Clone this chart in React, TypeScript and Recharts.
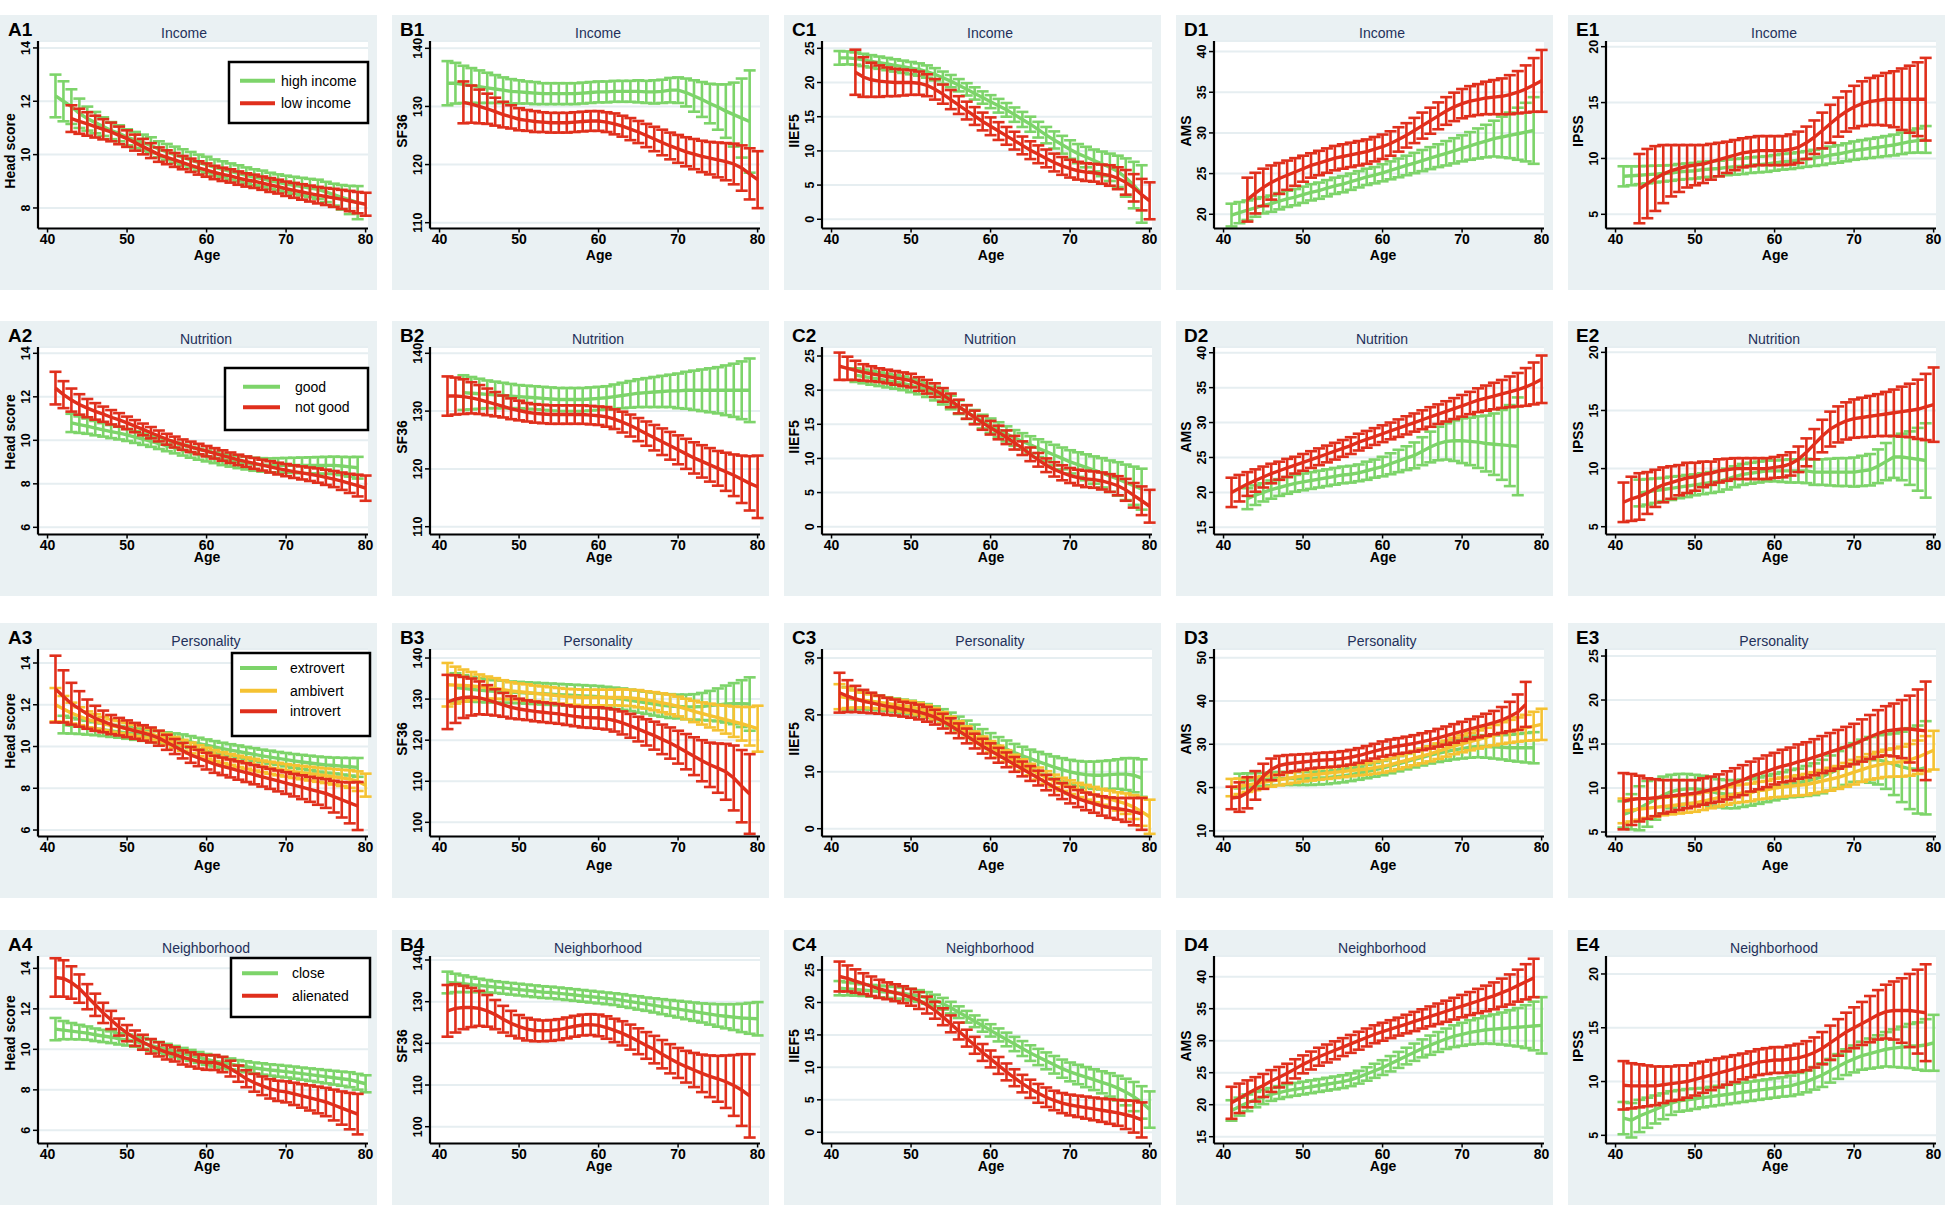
import { LineChart, Line, XAxis, YAxis, CartesianGrid, ErrorBar } from "recharts";

const _ = null;

const AGES = [41, 42, 43, 44, 45, 46, 47, 48, 49, 50, 51, 52, 53, 54, 55, 56, 57, 58, 59, 60, 61, 62, 63, 64, 65, 66, 67, 68, 69, 70, 71, 72, 73, 74, 75, 76, 77, 78, 79, 80];
const X_TICKS = [40, 50, 60, 70, 80];

// ---- Row 1: income (high / low) ----
const a1HighMean = [12.2, 12.0, 11.8, 11.55, 11.35, 11.2, 11.05, 10.9, 10.8, 10.65,  10.55, 10.45, 10.35, 10.2, 10.1, 10.0, 9.9, 9.8, 9.7, 9.62,  9.52, 9.45, 9.37, 9.3, 9.22, 9.15, 9.1, 9.02, 8.96, 8.9,  8.85, 8.8, 8.75, 8.7, 8.6, 8.5, 8.4, 8.3, 8.2, _];
const a1HighCi = [0.8, 0.75, 0.65, 0.55, 0.45, 0.4, 0.35, 0.32, 0.3, 0.3,  0.3, 0.3, 0.3, 0.3, 0.3, 0.3, 0.3, 0.3, 0.3, 0.3,  0.3, 0.3, 0.3, 0.3, 0.3, 0.3, 0.3, 0.3, 0.3, 0.31,  0.32, 0.33, 0.34, 0.36, 0.38, 0.41, 0.46, 0.53, 0.62, _];
const a1LowMean = [_, _, 11.35, 11.25, 11.15, 11.05, 10.95, 10.85, 10.72, 10.6,  10.45, 10.3, 10.15, 10.0, 9.9, 9.8, 9.7, 9.6, 9.5, 9.42,  9.33, 9.26, 9.2, 9.12, 9.05, 9.0, 8.93, 8.86, 8.8, 8.72,  8.66, 8.6, 8.54, 8.48, 8.43, 8.38, 8.32, 8.26, 8.2, 8.14];
const a1LowCi = [_, _, 0.5, 0.47, 0.44, 0.41, 0.38, 0.35, 0.33, 0.31,  0.3, 0.29, 0.28, 0.27, 0.26, 0.26, 0.25, 0.25, 0.25, 0.25,  0.25, 0.25, 0.25, 0.25, 0.25, 0.25, 0.25, 0.26, 0.26, 0.27,  0.28, 0.29, 0.3, 0.31, 0.32, 0.34, 0.36, 0.38, 0.4, 0.43];

const b1HighMean = [134.0, 134.0, 133.8, 133.6, 133.4, 133.2, 133.0, 132.8, 132.6, 132.5,  132.4, 132.3, 132.2, 132.2, 132.2, 132.2, 132.2, 132.3, 132.4, 132.5,  132.5, 132.6, 132.6, 132.6, 132.6, 132.5, 132.5, 132.6, 132.8, 132.8,  132.4, 131.8, 131.2, 130.5, 129.9, 129.2, 128.6, 128.0, 127.4, _];
const b1HighCi = [3.8, 3.5, 3.2, 3.0, 2.8, 2.6, 2.4, 2.2, 2.1, 2.0,  1.9, 1.9, 1.8, 1.8, 1.8, 1.8, 1.8, 1.8, 1.8, 1.8,  1.8, 1.8, 1.8, 1.8, 1.9, 1.9, 2.0, 2.0, 2.1, 2.2,  2.4, 2.7, 3.0, 3.4, 3.9, 4.6, 5.5, 6.8, 8.8, _];
const b1LowMean = [_, _, 130.7, 130.4, 130.0, 129.6, 129.1, 128.6, 128.2, 127.8,  127.6, 127.4, 127.3, 127.2, 127.2, 127.2, 127.3, 127.4, 127.5, 127.5,  127.3, 127.0, 126.6, 126.1, 125.6, 125.0, 124.4, 123.8, 123.2, 122.7,  122.2, 121.8, 121.4, 121.1, 120.8, 120.5, 120.1, 119.4, 118.4, 117.4];
const b1LowCi = [_, _, 3.6, 3.2, 2.9, 2.6, 2.4, 2.2, 2.0, 1.9,  1.8, 1.8, 1.7, 1.7, 1.7, 1.7, 1.7, 1.7, 1.7, 1.7,  1.7, 1.8, 1.8, 1.9, 1.9, 2.0, 2.1, 2.2, 2.3, 2.4,  2.5, 2.6, 2.7, 2.8, 3.0, 3.2, 3.5, 3.9, 4.4, 4.9];

const c1HighMean = [23.6, 23.6, 23.5, 23.3, 23.1, 22.9, 22.7, 22.5, 22.3, 22.1,  21.9, 21.6, 21.2, 20.7, 20.2, 19.6, 19.0, 18.4, 17.8, 17.2,  16.6, 16.0, 15.3, 14.6, 13.9, 13.1, 12.3, 11.6, 10.9, 10.2,  9.6, 9.1, 8.6, 8.1, 7.6, 7.0, 6.1, 5.0, 3.7, _];
const c1HighCi = [1.0, 0.95, 0.9, 0.9, 0.9, 0.9, 0.9, 0.9, 0.9, 0.9,  0.9, 0.9, 0.9, 0.9, 0.9, 0.9, 0.9, 0.9, 0.9, 0.95,  1.0, 1.0, 1.05, 1.1, 1.1, 1.15, 1.2, 1.25, 1.3, 1.35,  1.4, 1.5, 1.6, 1.8, 2.0, 2.3, 2.8, 3.4, 4.2, _];
const c1LowMean = [_, _, 21.5, 20.8, 20.4, 20.2, 20.1, 20.0, 20.0, 20.0,  19.9, 19.6, 19.0, 18.3, 17.5, 16.7, 15.9, 15.1, 14.3, 13.6,  12.9, 12.2, 11.5, 10.8, 10.1, 9.5, 8.9, 8.3, 7.8, 7.4,  7.1, 6.9, 6.8, 6.6, 6.4, 6.0, 5.4, 4.6, 3.6, 2.7];
const c1LowCi = [_, _, 3.3, 2.9, 2.5, 2.3, 2.1, 2.0, 1.9, 1.8,  1.7, 1.6, 1.5, 1.4, 1.4, 1.3, 1.3, 1.3, 1.3, 1.3,  1.3, 1.3, 1.3, 1.3, 1.3, 1.3, 1.3, 1.3, 1.3, 1.3,  1.3, 1.3, 1.3, 1.4, 1.5, 1.6, 1.8, 2.0, 2.3, 2.7];

const d1HighMean = [19.9, 20.2, 20.5, 20.8, 21.1, 21.3, 21.6, 21.9, 22.1, 22.4,  22.7, 22.9, 23.2, 23.5, 23.7, 24.0, 24.3, 24.6, 24.8, 25.1,  25.4, 25.7, 26.0, 26.3, 26.6, 26.9, 27.2, 27.5, 27.8, 28.1,  28.4, 28.7, 29.0, 29.3, 29.5, 29.7, 29.9, 30.1, 30.3, _];
const d1HighCi = [1.4, 1.3, 1.2, 1.1, 1.0, 1.0, 1.0, 1.0, 1.0, 1.0,  1.0, 1.0, 1.0, 1.0, 1.0, 1.0, 1.0, 1.0, 1.0, 1.05,  1.1, 1.15, 1.2, 1.25, 1.3, 1.35, 1.4, 1.5, 1.55, 1.6,  1.7, 1.85, 2.0, 2.2, 2.5, 2.8, 3.2, 3.6, 4.1, _];
const d1LowMean = [_, _, 21.8, 22.6, 23.3, 23.9, 24.4, 24.8, 25.2, 25.6,  26.0, 26.3, 26.6, 26.9, 27.1, 27.3, 27.5, 27.7, 28.0, 28.3,  28.7, 29.2, 29.7, 30.3, 30.9, 31.5, 32.1, 32.7, 33.2, 33.6,  33.9, 34.1, 34.3, 34.4, 34.5, 34.7, 35.0, 35.4, 35.9, 36.4];
const d1LowCi = [_, _, 2.7, 2.5, 2.3, 2.1, 1.9, 1.8, 1.7, 1.6,  1.5, 1.5, 1.5, 1.5, 1.5, 1.5, 1.5, 1.5, 1.5, 1.5,  1.5, 1.5, 1.5, 1.55, 1.6, 1.6, 1.65, 1.7, 1.75, 1.8,  1.85, 1.9, 2.0, 2.1, 2.2, 2.4, 2.6, 2.9, 3.3, 3.8];

const e1HighMean = [8.4, 8.45, 8.5, 8.55, 8.6, 8.65, 8.7, 8.8, 8.85, 8.9,  9.0, 9.05, 9.1, 9.2, 9.25, 9.3, 9.4, 9.45, 9.5, 9.6,  9.7, 9.75, 9.85, 9.95, 10.05, 10.15, 10.3, 10.4, 10.55, 10.7,  10.8, 10.9, 11.0, 11.1, 11.2, 11.35, 11.5, 11.6, 11.7, _];
const e1HighCi = [0.9, 0.85, 0.8, 0.78, 0.75, 0.72, 0.7, 0.7, 0.7, 0.7,  0.7, 0.7, 0.7, 0.7, 0.7, 0.7, 0.7, 0.7, 0.7, 0.7,  0.7, 0.7, 0.7, 0.7, 0.72, 0.74, 0.76, 0.78, 0.8, 0.82,  0.84, 0.86, 0.88, 0.9, 0.93, 0.96, 1.0, 1.08, 1.2, _];
const e1LowMean = [_, _, 7.3, 7.75, 8.2, 8.6, 8.9, 9.1, 9.3, 9.4,  9.5, 9.7, 9.9, 10.1, 10.3, 10.5, 10.6, 10.7, 10.7, 10.7,  10.7, 10.8, 11.0, 11.4, 11.9, 12.5, 13.1, 13.7, 14.2, 14.6,  14.9, 15.1, 15.2, 15.3, 15.3, 15.3, 15.3, 15.3, 15.3, _];
const e1LowCi = [_, _, 3.1, 3.1, 2.9, 2.6, 2.3, 2.1, 1.9, 1.8,  1.7, 1.6, 1.5, 1.4, 1.35, 1.3, 1.3, 1.3, 1.3, 1.3,  1.3, 1.35, 1.4, 1.45, 1.5, 1.6, 1.7, 1.75, 1.8, 1.9,  2.0, 2.1, 2.2, 2.35, 2.5, 2.75, 3.0, 3.3, 3.7, _];

// ---- Row 2: nutrition (good / not good) ----
const a2GoodMean = [_, _, 10.8, 10.72, 10.65, 10.56, 10.48, 10.4, 10.33, 10.25,  10.15, 10.05, 9.95, 9.85, 9.75, 9.65, 9.55, 9.45, 9.36, 9.28,  9.2, 9.12, 9.06, 9.0, 8.95, 8.9, 8.87, 8.85, 8.85, 8.85,  8.85, 8.85, 8.85, 8.85, 8.85, 8.85, 8.82, 8.78, 8.74, _];
const a2GoodCi = [_, _, 0.42, 0.38, 0.35, 0.33, 0.31, 0.3, 0.29, 0.28,  0.27, 0.26, 0.25, 0.25, 0.25, 0.25, 0.25, 0.25, 0.25, 0.25,  0.25, 0.26, 0.27, 0.28, 0.29, 0.3, 0.31, 0.32, 0.33, 0.34,  0.35, 0.36, 0.37, 0.38, 0.39, 0.4, 0.42, 0.45, 0.5, _];
const a2NotMean = [12.4, 12.1, 11.85, 11.65, 11.48, 11.33, 11.2, 11.06, 10.94, 10.8,  10.65, 10.5, 10.35, 10.2, 10.05, 9.92, 9.8, 9.7, 9.6, 9.5,  9.4, 9.3, 9.2, 9.1, 9.02, 8.94, 8.86, 8.78, 8.7, 8.63,  8.56, 8.5, 8.44, 8.38, 8.3, 8.22, 8.12, 8.02, 7.92, 7.8];
const a2NotCi = [0.75, 0.62, 0.53, 0.47, 0.42, 0.38, 0.35, 0.33, 0.31, 0.29,  0.28, 0.27, 0.26, 0.25, 0.25, 0.25, 0.24, 0.24, 0.24, 0.24,  0.24, 0.24, 0.24, 0.24, 0.24, 0.25, 0.25, 0.26, 0.27, 0.28,  0.29, 0.3, 0.31, 0.33, 0.35, 0.37, 0.4, 0.44, 0.5, 0.58];

const b2GoodMean = [_, _, 133.2, 133.1, 133.0, 132.9, 132.8, 132.7, 132.6, 132.5,  132.4, 132.3, 132.2, 132.1, 132.0, 132.0, 132.0, 132.0, 132.1, 132.2,  132.3, 132.5, 132.7, 132.9, 133.1, 133.2, 133.3, 133.4, 133.5, 133.5,  133.6, 133.6, 133.6, 133.6, 133.6, 133.6, 133.6, 133.6, 133.6, _];
const b2GoodCi = [_, _, 3.0, 2.8, 2.6, 2.4, 2.3, 2.2, 2.1, 2.0,  2.0, 2.0, 2.0, 2.0, 2.0, 2.0, 2.0, 2.0, 2.0, 2.0,  2.0, 2.1, 2.2, 2.3, 2.4, 2.5, 2.6, 2.7, 2.8, 3.0,  3.2, 3.4, 3.6, 3.8, 4.0, 4.3, 4.6, 5.0, 5.5, _];
const b2NotMean = [132.6, 132.6, 132.5, 132.3, 132.0, 131.6, 131.2, 130.8, 130.4, 130.1,  129.8, 129.6, 129.5, 129.4, 129.4, 129.4, 129.4, 129.4, 129.3, 129.2,  129.0, 128.6, 128.1, 127.5, 126.8, 126.1, 125.4, 124.7, 124.0, 123.3,  122.6, 121.9, 121.3, 120.7, 120.1, 119.5, 118.9, 118.2, 117.5, 116.9];
const b2NotCi = [3.4, 3.2, 3.0, 2.7, 2.5, 2.3, 2.1, 1.9, 1.8, 1.7,  1.6, 1.6, 1.6, 1.6, 1.6, 1.6, 1.6, 1.6, 1.6, 1.6,  1.7, 1.7, 1.8, 1.9, 2.0, 2.1, 2.2, 2.3, 2.4, 2.5,  2.6, 2.7, 2.8, 2.9, 3.0, 3.3, 3.6, 4.1, 4.7, 5.4];

const c2GoodMean = [_, _, 22.2, 22.0, 21.8, 21.6, 21.4, 21.2, 21.0, 20.7,  20.4, 20.0, 19.5, 18.9, 18.2, 17.5, 16.8, 16.1, 15.4, 14.8,  14.2, 13.6, 13.0, 12.5, 12.0, 11.5, 11.0, 10.5, 10.0, 9.5,  9.1, 8.7, 8.3, 7.9, 7.4, 7.0, 6.5, 6.0, 5.5, _];
const c2GoodCi = [_, _, 1.0, 1.0, 1.0, 1.0, 1.0, 1.0, 1.0, 1.0,  1.0, 1.0, 1.0, 1.0, 1.0, 1.0, 1.0, 1.0, 1.0, 1.05,  1.1, 1.1, 1.15, 1.2, 1.25, 1.3, 1.4, 1.5, 1.6, 1.7,  1.8, 1.9, 2.0, 2.15, 2.3, 2.45, 2.6, 2.8, 3.0, _];
const c2NotMean = [23.5, 23.2, 22.9, 22.6, 22.4, 22.2, 22.0, 21.8, 21.6, 21.4,  20.9, 20.5, 20.0, 19.3, 18.5, 17.6, 16.8, 16.0, 15.2, 14.5,  13.8, 13.1, 12.3, 11.5, 10.6, 9.8, 9.0, 8.4, 7.9, 7.5,  7.2, 7.0, 6.9, 6.7, 6.4, 6.0, 5.4, 4.6, 3.8, 3.0];
const c2NotCi = [2.0, 1.7, 1.4, 1.2, 1.1, 1.0, 1.0, 1.0, 1.0, 1.0,  1.0, 1.0, 1.0, 1.0, 1.0, 1.0, 1.0, 1.0, 1.0, 1.0,  1.0, 1.0, 1.0, 1.0, 1.0, 1.0, 1.0, 1.05, 1.1, 1.1,  1.15, 1.2, 1.2, 1.25, 1.3, 1.4, 1.6, 1.8, 2.1, 2.4];

const d2GoodMean = [_, _, 19.1, 19.6, 20.0, 20.4, 20.7, 21.0, 21.3, 21.5,  21.7, 21.9, 22.1, 22.3, 22.5, 22.6, 22.8, 23.1, 23.4, 23.7,  24.1, 24.5, 24.9, 25.3, 25.9, 26.5, 27.0, 27.3, 27.4, 27.4,  27.3, 27.2, 27.0, 26.9, 26.8, 26.7, 26.6, _, _, _];
const d2GoodCi = [_, _, 1.5, 1.4, 1.3, 1.3, 1.2, 1.2, 1.2, 1.2,  1.2, 1.2, 1.2, 1.2, 1.2, 1.2, 1.2, 1.3, 1.3, 1.4,  1.5, 1.6, 1.7, 1.85, 2.0, 2.2, 2.4, 2.6, 2.9, 3.2,  3.4, 3.7, 4.0, 4.4, 5.0, 5.8, 7.0, _, _, _];
const d2NotMean = [20.0, 20.6, 21.2, 21.7, 22.2, 22.7, 23.1, 23.5, 23.9, 24.3,  24.7, 25.1, 25.5, 25.9, 26.3, 26.7, 27.2, 27.6, 28.0, 28.4,  28.8, 29.2, 29.6, 30.0, 30.4, 30.8, 31.2, 31.6, 32.0, 32.4,  32.8, 33.2, 33.5, 33.8, 34.1, 34.4, 34.7, 35.1, 35.6, 36.2];
const d2NotCi = [2.1, 1.9, 1.7, 1.6, 1.5, 1.4, 1.3, 1.3, 1.2, 1.2,  1.2, 1.2, 1.2, 1.2, 1.2, 1.2, 1.2, 1.2, 1.2, 1.2,  1.2, 1.25, 1.3, 1.3, 1.35, 1.4, 1.4, 1.45, 1.5, 1.55,  1.6, 1.7, 1.8, 1.9, 2.0, 2.2, 2.4, 2.7, 3.0, 3.4];

const e2GoodMean = [_, _, 7.9, 8.0, 8.1, 8.2, 8.3, 8.4, 8.5, 8.6,  8.7, 8.8, 8.9, 9.1, 9.3, 9.5, 9.6, 9.7, 9.8, 9.8,  9.8, 9.8, 9.8, 9.8, 9.7, 9.7, 9.7, 9.7, 9.7, 9.7,  9.8, 9.9, 10.2, 10.6, 11.0, 11.0, 10.9, 10.8, 10.7, _];
const e2GoodCi = [_, _, 1.15, 1.1, 1.05, 1.0, 1.0, 0.95, 0.95, 0.9,  0.9, 0.9, 0.9, 0.9, 0.9, 0.9, 0.9, 0.9, 0.9, 0.9,  0.95, 1.0, 1.0, 1.05, 1.1, 1.1, 1.15, 1.2, 1.2, 1.25,  1.3, 1.35, 1.45, 1.6, 1.8, 2.0, 2.3, 2.7, 3.2, _];
const e2NotMean = [7.1, 7.4, 7.6, 7.9, 8.3, 8.6, 8.8, 9.0, 9.2, 9.3,  9.5, 9.6, 9.8, 9.9, 10.0, 10.0, 10.0, 10.0, 10.0, 10.1,  10.2, 10.4, 10.8, 11.4, 12.1, 12.8, 13.4, 13.8, 14.1, 14.3,  14.4, 14.5, 14.6, 14.7, 14.8, 14.9, 15.0, 15.1, 15.3, 15.5];
const e2NotCi = [1.7, 1.9, 2.0, 1.8, 1.6, 1.5, 1.4, 1.3, 1.3, 1.2,  1.1, 1.0, 1.0, 0.95, 0.9, 0.9, 0.9, 0.9, 0.9, 0.9,  0.95, 1.0, 1.1, 1.2, 1.3, 1.4, 1.5, 1.55, 1.6, 1.65,  1.7, 1.75, 1.8, 1.9, 2.0, 2.15, 2.3, 2.55, 2.85, 3.2];

// ---- Row 3: personality (extrovert / ambivert / introvert) ----
const a3ExtroMean = [_, 11.05, 11.0, 10.95, 10.9, 10.85, 10.8, 10.75, 10.7, 10.65,  10.6, 10.55, 10.5, 10.45, 10.4, 10.35, 10.3, 10.22, 10.14, 10.06,  9.98, 9.9, 9.83, 9.76, 9.69, 9.62, 9.55, 9.49, 9.43, 9.37,  9.31, 9.26, 9.21, 9.16, 9.12, 9.09, 9.06, 9.03, 9.0, _];
const a3ExtroCi = [_, 0.42, 0.38, 0.35, 0.33, 0.31, 0.3, 0.29, 0.28, 0.28,  0.28, 0.28, 0.28, 0.28, 0.28, 0.28, 0.28, 0.28, 0.28, 0.28,  0.28, 0.28, 0.28, 0.29, 0.29, 0.3, 0.3, 0.31, 0.31, 0.32,  0.33, 0.34, 0.35, 0.36, 0.37, 0.38, 0.4, 0.42, 0.45, _];
const a3AmbiMean = [12.0, 11.8, 11.6, 11.45, 11.3, 11.2, 11.1, 11.0, 10.93, 10.85,  10.77, 10.7, 10.6, 10.48, 10.35, 10.2, 10.06, 9.93, 9.8, 9.68,  9.57, 9.47, 9.38, 9.29, 9.21, 9.13, 9.05, 8.98, 8.92, 8.86,  8.8, 8.75, 8.7, 8.65, 8.6, 8.55, 8.5, 8.44, 8.34, 8.15];
const a3AmbiCi = [0.8, 0.62, 0.5, 0.43, 0.38, 0.35, 0.32, 0.3, 0.29, 0.28,  0.27, 0.27, 0.26, 0.26, 0.26, 0.26, 0.26, 0.26, 0.26, 0.26,  0.26, 0.26, 0.26, 0.27, 0.27, 0.28, 0.28, 0.29, 0.3, 0.3,  0.31, 0.32, 0.33, 0.34, 0.35, 0.37, 0.39, 0.42, 0.47, 0.55];
const a3IntroMean = [12.75, 12.4, 12.05, 11.8, 11.55, 11.35, 11.2, 11.05, 10.95, 10.85,  10.75, 10.65, 10.55, 10.4, 10.2, 10.0, 9.8, 9.6, 9.45, 9.3,  9.15, 9.05, 8.95, 8.85, 8.75, 8.65, 8.55, 8.45, 8.35, 8.25,  8.15, 8.05, 7.95, 7.85, 7.75, 7.6, 7.45, 7.3, 7.15, _];
const a3IntroCi = [1.6, 1.25, 1.0, 0.85, 0.7, 0.6, 0.52, 0.46, 0.42, 0.4,  0.38, 0.37, 0.36, 0.36, 0.36, 0.36, 0.37, 0.38, 0.39, 0.4,  0.41, 0.42, 0.43, 0.44, 0.45, 0.46, 0.47, 0.48, 0.5, 0.52,  0.54, 0.57, 0.6, 0.64, 0.69, 0.76, 0.85, 0.98, 1.15, _];

const b3ExtroMean = [_, 132.8, 132.6, 132.4, 132.2, 132.0, 131.9, 131.8, 131.7, 131.6,  131.5, 131.4, 131.3, 131.2, 131.1, 131.0, 130.9, 130.8, 130.7, 130.6,  130.4, 130.2, 130.0, 129.7, 129.4, 129.1, 128.8, 128.5, 128.3, 128.2,  128.1, 128.1, 128.2, 128.4, 128.6, 128.8, 128.9, 128.9, 128.8, _];
const b3ExtroCi = [_, 3.5, 3.2, 3.0, 2.9, 2.8, 2.7, 2.7, 2.6, 2.6,  2.6, 2.6, 2.6, 2.6, 2.6, 2.6, 2.6, 2.6, 2.6, 2.6,  2.6, 2.6, 2.6, 2.6, 2.7, 2.7, 2.8, 2.8, 2.9, 2.9,  3.0, 3.1, 3.3, 3.6, 4.0, 4.5, 5.0, 5.7, 6.5, _];
const b3AmbiMean = [133.5, 133.4, 133.3, 133.2, 133.0, 132.8, 132.6, 132.3, 132.0, 131.8,  131.6, 131.4, 131.2, 131.0, 130.8, 130.6, 130.5, 130.4, 130.4, 130.4,  130.4, 130.4, 130.4, 130.3, 130.1, 129.8, 129.5, 129.1, 128.7, 128.2,  127.6, 127.0, 126.5, 126.0, 125.5, 125.0, 124.5, 124.0, 123.4, 122.8];
const b3AmbiCi = [5.3, 4.5, 3.9, 3.4, 3.0, 2.7, 2.5, 2.3, 2.1, 2.0,  2.0, 1.9, 1.9, 1.9, 1.9, 1.9, 1.9, 1.9, 1.9, 1.9,  1.9, 1.9, 2.0, 2.0, 2.1, 2.1, 2.2, 2.3, 2.4, 2.4,  2.5, 2.6, 2.7, 2.9, 3.1, 3.4, 3.7, 4.1, 4.7, 5.6];
const b3IntroMean = [129.3, 130.0, 130.4, 130.5, 130.3, 129.8, 129.2, 128.6, 128.0, 127.6,  127.3, 127.0, 126.8, 126.6, 126.4, 126.1, 125.8, 125.6, 125.5, 125.4,  125.2, 124.8, 124.2, 123.5, 122.7, 121.9, 121.1, 120.2, 119.3, 118.3,  117.2, 116.1, 115.0, 114.0, 113.2, 112.3, 110.8, 108.8, 106.9, _];
const b3IntroCi = [6.6, 5.8, 5.0, 4.5, 4.0, 3.6, 3.2, 2.9, 2.7, 2.5,  2.4, 2.4, 2.4, 2.4, 2.4, 2.4, 2.4, 2.5, 2.5, 2.6,  2.6, 2.7, 2.8, 2.9, 3.0, 3.2, 3.4, 3.6, 3.8, 4.0,  4.3, 4.6, 5.0, 5.4, 6.0, 6.8, 7.9, 8.8, 9.7, _];

const c3ExtroMean = [_, 22.9, 22.7, 22.5, 22.3, 22.1, 21.9, 21.7, 21.5, 21.3,  21.0, 20.7, 20.3, 19.8, 19.2, 18.5, 17.8, 17.0, 16.2, 15.4,  14.7, 14.0, 13.4, 12.8, 12.3, 11.8, 11.3, 10.8, 10.4, 10.0,  9.7, 9.5, 9.4, 9.4, 9.5, 9.6, 9.6, 9.4, 8.9, _];
const c3ExtroCi = [_, 2.0, 1.7, 1.5, 1.4, 1.3, 1.2, 1.2, 1.2, 1.2,  1.2, 1.2, 1.2, 1.2, 1.2, 1.2, 1.2, 1.3, 1.3, 1.4,  1.4, 1.5, 1.5, 1.6, 1.6, 1.7, 1.8, 1.9, 2.0, 2.1,  2.2, 2.3, 2.4, 2.5, 2.5, 2.6, 2.8, 3.0, 3.3, _];
const c3AmbiMean = [23.2, 23.0, 22.8, 22.6, 22.4, 22.2, 22.0, 21.8, 21.6, 21.4,  21.1, 20.7, 20.2, 19.5, 18.7, 17.9, 17.0, 16.1, 15.2, 14.4,  13.6, 12.8, 12.0, 11.2, 10.4, 9.7, 9.0, 8.4, 7.8, 7.3,  6.8, 6.4, 6.0, 5.6, 5.2, 4.8, 4.4, 3.8, 3.0, 2.1];
const c3AmbiCi = [2.2, 1.8, 1.5, 1.3, 1.2, 1.1, 1.0, 1.0, 1.0, 1.0,  1.0, 1.0, 1.0, 1.0, 1.0, 1.0, 1.0, 1.0, 1.0, 1.0,  1.0, 1.0, 1.0, 1.0, 1.0, 1.05, 1.1, 1.1, 1.15, 1.2,  1.25, 1.3, 1.35, 1.4, 1.5, 1.6, 1.8, 2.1, 2.5, 3.0];
const c3IntroMean = [23.9, 23.3, 22.8, 22.4, 22.1, 21.8, 21.5, 21.3, 21.0, 20.8,  20.5, 20.1, 19.6, 18.9, 18.1, 17.2, 16.3, 15.4, 14.5, 13.7,  12.9, 12.1, 11.3, 10.5, 9.7, 8.9, 8.1, 7.3, 6.6, 5.9,  5.3, 4.8, 4.4, 4.0, 3.7, 3.5, 3.3, 3.0, 2.6, _];
const c3IntroCi = [3.5, 2.8, 2.3, 2.0, 1.8, 1.6, 1.5, 1.4, 1.3, 1.3,  1.3, 1.3, 1.3, 1.3, 1.3, 1.3, 1.3, 1.3, 1.3, 1.3,  1.3, 1.3, 1.3, 1.3, 1.3, 1.3, 1.35, 1.4, 1.4, 1.45,  1.5, 1.55, 1.6, 1.7, 1.8, 1.9, 2.1, 2.4, 2.8, _];

const d3ExtroMean = [_, 21.5, 21.7, 21.8, 21.9, 22.0, 22.1, 22.1, 22.1, 22.1,  22.1, 22.2, 22.3, 22.5, 22.7, 23.0, 23.3, 23.7, 24.1, 24.5,  25.0, 25.5, 26.0, 26.5, 27.0, 27.5, 27.9, 28.3, 28.7, 29.0,  29.3, 29.5, 29.5, 29.4, 29.3, 29.2, 29.2, 29.2, 29.2, _];
const d3ExtroCi = [_, 1.7, 1.6, 1.55, 1.5, 1.5, 1.5, 1.5, 1.5, 1.5,  1.5, 1.5, 1.5, 1.5, 1.5, 1.5, 1.5, 1.55, 1.6, 1.65,  1.7, 1.75, 1.8, 1.85, 1.9, 1.95, 2.0, 2.1, 2.2, 2.3,  2.4, 2.5, 2.6, 2.7, 2.8, 3.0, 3.2, 3.4, 3.6, _];
const d3AmbiMean = [20.0, 20.3, 20.6, 20.9, 21.2, 21.5, 21.8, 22.1, 22.4, 22.7,  22.9, 23.1, 23.3, 23.5, 23.7, 23.9, 24.1, 24.3, 24.6, 24.9,  25.3, 25.8, 26.3, 26.8, 27.3, 27.8, 28.4, 29.0, 29.6, 30.1,  30.6, 31.1, 31.6, 32.1, 32.6, 33.0, 33.4, 33.8, 34.2, 34.6];
const d3AmbiCi = [2.0, 1.8, 1.6, 1.5, 1.4, 1.3, 1.3, 1.3, 1.3, 1.3,  1.3, 1.3, 1.3, 1.3, 1.3, 1.3, 1.3, 1.35, 1.4, 1.45,  1.5, 1.55, 1.6, 1.65, 1.7, 1.75, 1.8, 1.85, 1.9, 1.95,  2.0, 2.1, 2.2, 2.35, 2.5, 2.65, 2.8, 3.0, 3.3, 3.6];
const d3IntroMean = [17.6, 17.8, 18.8, 20.5, 22.6, 24.2, 25.1, 25.5, 25.7, 25.9,  26.1, 26.3, 26.4, 26.5, 26.7, 27.0, 27.4, 27.9, 28.4, 28.9,  29.3, 29.6, 29.9, 30.2, 30.6, 31.0, 31.5, 32.0, 32.5, 33.0,  33.5, 34.0, 34.5, 35.0, 35.6, 36.4, 37.4, 39.2, _, _];
const d3IntroCi = [2.6, 3.4, 3.6, 3.3, 2.9, 2.5, 2.2, 2.0, 1.9, 1.8,  1.7, 1.7, 1.7, 1.7, 1.7, 1.7, 1.7, 1.7, 1.7, 1.75,  1.8, 1.8, 1.85, 1.9, 1.95, 2.0, 2.05, 2.1, 2.15, 2.2,  2.3, 2.4, 2.55, 2.7, 3.0, 3.4, 4.1, 5.2, _, _];

const e3ExtroMean = [7.0, 7.3, 7.7, 8.2, 8.7, 9.2, 9.6, 9.8, 9.9, 9.9,  9.8, 9.6, 9.4, 9.3, 9.3, 9.4, 9.5, 9.7, 9.9, 10.1,  10.3, 10.5, 10.6, 10.8, 11.0, 11.3, 11.7, 12.1, 12.5, 12.9,  13.1, 13.2, 13.2, 13.0, 12.7, 12.4, 12.2, 12.1, 12.3, _];
const e3ExtroCi = [1.5, 2.0, 2.5, 2.6, 2.3, 2.1, 1.9, 1.8, 1.7, 1.6,  1.6, 1.6, 1.6, 1.6, 1.6, 1.55, 1.5, 1.5, 1.5, 1.5,  1.5, 1.55, 1.6, 1.7, 1.8, 1.9, 2.0, 2.1, 2.15, 2.2,  2.4, 2.6, 2.8, 3.1, 3.5, 4.0, 4.6, 5.0, 5.3, _];
const e3AmbiMean = [7.4, 7.5, 7.6, 7.7, 7.8, 7.9, 8.0, 8.1, 8.2, 8.3,  8.5, 8.7, 8.9, 9.1, 9.3, 9.4, 9.5, 9.7, 9.8, 10.0,  10.1, 10.2, 10.3, 10.4, 10.6, 10.8, 11.0, 11.2, 11.5, 11.8,  12.1, 12.4, 12.6, 12.8, 12.9, 13.0, 13.2, 13.5, 13.9, 14.3];
const e3AmbiCi = [1.4, 1.3, 1.2, 1.1, 1.05, 1.0, 1.0, 1.0, 1.0, 1.0,  1.0, 1.0, 1.0, 1.0, 1.0, 1.0, 1.0, 1.0, 1.0, 1.05,  1.1, 1.1, 1.15, 1.2, 1.2, 1.25, 1.3, 1.3, 1.35, 1.4,  1.4, 1.45, 1.5, 1.55, 1.6, 1.7, 1.8, 1.9, 2.0, 2.2];
const e3IntroMean = [8.5, 8.7, 8.8, 8.8, 8.9, 9.0, 9.1, 9.2, 9.3, 9.4,  9.6, 9.8, 10.0, 10.3, 10.6, 10.9, 11.3, 11.6, 11.9, 12.2,  12.5, 12.7, 13.0, 13.2, 13.5, 13.8, 14.1, 14.4, 14.7, 15.0,  15.4, 15.8, 16.2, 16.5, 16.6, 16.7, 16.7, 16.6, 16.5, _];
const e3IntroCi = [3.2, 2.9, 2.6, 2.3, 2.1, 1.9, 1.8, 1.7, 1.6, 1.5,  1.5, 1.5, 1.55, 1.6, 1.65, 1.7, 1.7, 1.75, 1.8, 1.8,  1.85, 1.9, 1.95, 2.0, 2.05, 2.1, 2.15, 2.2, 2.25, 2.3,  2.4, 2.5, 2.65, 2.8, 3.0, 3.3, 3.8, 4.6, 5.6, _];

// ---- Row 4: neighborhood (close / alienated) ----
const a4CloseMean = [11.0, 10.95, 10.9, 10.85, 10.8, 10.72, 10.66, 10.6, 10.52, 10.46,  10.4, 10.3, 10.2, 10.1, 10.0, 9.9, 9.8, 9.7, 9.6, 9.5,  9.42, 9.35, 9.28, 9.2, 9.14, 9.08, 9.03, 8.98, 8.94, 8.9,  8.85, 8.8, 8.75, 8.7, 8.65, 8.6, 8.55, 8.5, 8.4, 8.3];
const a4CloseCi = [0.55, 0.45, 0.4, 0.36, 0.33, 0.31, 0.3, 0.29, 0.28, 0.27,  0.27, 0.27, 0.27, 0.27, 0.27, 0.27, 0.27, 0.27, 0.27, 0.27,  0.27, 0.27, 0.27, 0.27, 0.27, 0.27, 0.28, 0.28, 0.29, 0.29,  0.3, 0.3, 0.31, 0.32, 0.33, 0.34, 0.35, 0.37, 0.39, 0.42];
const a4AlienMean = [13.55, 13.5, 13.3, 13.0, 12.6, 12.2, 11.8, 11.45, 11.1, 10.8,  10.55, 10.35, 10.15, 10.0, 9.85, 9.75, 9.6, 9.5, 9.4, 9.35,  9.35, 9.25, 9.05, 8.8, 8.55, 8.35, 8.2, 8.05, 7.95, 7.9,  7.8, 7.7, 7.6, 7.5, 7.4, 7.25, 7.1, 6.95, 6.8, _];
const a4AlienCi = [0.95, 0.9, 0.8, 0.7, 0.62, 0.55, 0.5, 0.45, 0.42, 0.4,  0.38, 0.37, 0.36, 0.35, 0.35, 0.35, 0.35, 0.35, 0.35, 0.36,  0.37, 0.38, 0.39, 0.4, 0.42, 0.44, 0.46, 0.48, 0.5, 0.52,  0.55, 0.58, 0.62, 0.66, 0.7, 0.76, 0.82, 0.9, 1.0, _];

const b4CloseMean = [134.6, 134.5, 134.3, 134.1, 133.9, 133.7, 133.5, 133.3, 133.1, 132.9,  132.7, 132.5, 132.3, 132.2, 132.0, 131.8, 131.6, 131.4, 131.2, 131.0,  130.8, 130.6, 130.3, 130.0, 129.7, 129.4, 129.1, 128.8, 128.5, 128.2,  127.9, 127.6, 127.3, 127.0, 126.7, 126.5, 126.3, 126.1, 126.0, 125.9];
const b4CloseCi = [2.6, 2.2, 2.0, 1.8, 1.6, 1.5, 1.4, 1.4, 1.4, 1.4,  1.4, 1.4, 1.4, 1.4, 1.4, 1.4, 1.4, 1.4, 1.4, 1.4,  1.4, 1.4, 1.5, 1.5, 1.6, 1.6, 1.7, 1.8, 1.9, 2.0,  2.1, 2.2, 2.3, 2.5, 2.7, 2.9, 3.1, 3.4, 3.7, 4.0];
const b4AlienMean = [127.8, 128.4, 128.6, 128.6, 128.4, 127.8, 126.9, 125.8, 124.8, 124.0,  123.4, 123.1, 123.0, 123.1, 123.3, 123.7, 124.1, 124.4, 124.5, 124.3,  123.8, 123.1, 122.4, 121.5, 120.5, 119.5, 118.5, 117.4, 116.3, 115.3,  114.4, 113.6, 112.8, 112.1, 111.5, 110.8, 109.9, 108.8, 107.4, _];
const b4AlienCi = [6.2, 5.8, 5.2, 4.7, 4.2, 3.8, 3.5, 3.2, 3.0, 2.8,  2.7, 2.6, 2.5, 2.5, 2.5, 2.5, 2.5, 2.5, 2.5, 2.6,  2.7, 2.8, 2.9, 3.0, 3.1, 3.2, 3.3, 3.4, 3.5, 3.6,  3.8, 4.1, 4.5, 5.0, 5.5, 6.3, 7.3, 8.6, 10.0, _];

const c4CloseMean = [22.2, 22.1, 22.0, 21.9, 21.8, 21.7, 21.6, 21.5, 21.4, 21.2,  21.0, 20.7, 20.3, 19.8, 19.2, 18.5, 17.8, 17.1, 16.4, 15.7,  15.0, 14.3, 13.6, 12.9, 12.2, 11.6, 11.0, 10.4, 9.8, 9.3,  8.9, 8.5, 8.1, 7.7, 7.3, 6.8, 6.2, 5.5, 4.6, 3.5];
const c4CloseCi = [1.1, 1.0, 0.95, 0.9, 0.9, 0.9, 0.9, 0.9, 0.9, 0.9,  0.9, 0.9, 0.9, 0.9, 0.9, 0.9, 0.9, 0.9, 0.9, 0.95,  1.0, 1.05, 1.1, 1.15, 1.2, 1.25, 1.3, 1.35, 1.4, 1.45,  1.5, 1.55, 1.6, 1.7, 1.8, 1.9, 2.05, 2.25, 2.5, 2.8];
const c4AlienMean = [24.0, 23.7, 23.3, 22.9, 22.5, 22.1, 21.8, 21.5, 21.2, 20.8,  20.3, 19.6, 18.8, 17.8, 16.7, 15.6, 14.5, 13.4, 12.3, 11.3,  10.3, 9.3, 8.4, 7.5, 6.7, 6.0, 5.4, 4.9, 4.5, 4.2,  4.0, 3.8, 3.6, 3.4, 3.2, 3.0, 2.7, 2.4, 1.9, _];
const c4AlienCi = [2.3, 2.0, 1.8, 1.6, 1.5, 1.4, 1.3, 1.3, 1.3, 1.3,  1.3, 1.3, 1.3, 1.3, 1.3, 1.3, 1.3, 1.3, 1.3, 1.3,  1.3, 1.3, 1.3, 1.35, 1.4, 1.45, 1.5, 1.5, 1.55, 1.6,  1.65, 1.7, 1.75, 1.8, 1.9, 2.0, 2.2, 2.45, 2.7, _];

const d4CloseMean = [19.1, 19.7, 20.3, 20.8, 21.2, 21.6, 21.9, 22.2, 22.4, 22.6,  22.8, 23.0, 23.2, 23.4, 23.6, 23.9, 24.3, 24.8, 25.3, 25.8,  26.4, 27.0, 27.6, 28.2, 28.8, 29.3, 29.8, 30.3, 30.7, 31.0,  31.3, 31.5, 31.7, 31.8, 31.9, 32.0, 32.1, 32.2, 32.3, 32.4];
const d4CloseCi = [1.6, 1.4, 1.3, 1.2, 1.1, 1.0, 1.0, 1.0, 1.0, 1.0,  1.0, 1.0, 1.0, 1.0, 1.0, 1.0, 1.0, 1.05, 1.1, 1.15,  1.2, 1.25, 1.3, 1.35, 1.4, 1.5, 1.55, 1.6, 1.7, 1.8,  1.9, 2.0, 2.15, 2.3, 2.5, 2.75, 3.0, 3.35, 3.8, 4.4];
const d4AlienMean = [20.3, 21.0, 21.7, 22.4, 23.0, 23.7, 24.3, 24.9, 25.6, 26.3,  26.9, 27.5, 28.0, 28.5, 29.0, 29.5, 30.0, 30.5, 31.0, 31.4,  31.8, 32.2, 32.6, 33.0, 33.4, 33.8, 34.2, 34.6, 35.0, 35.4,  35.8, 36.2, 36.6, 37.0, 37.5, 38.0, 38.6, 39.2, 39.8, _];
const d4AlienCi = [2.5, 2.3, 2.1, 1.9, 1.8, 1.7, 1.6, 1.5, 1.5, 1.4,  1.4, 1.4, 1.4, 1.4, 1.4, 1.4, 1.4, 1.4, 1.4, 1.4,  1.4, 1.4, 1.45, 1.5, 1.5, 1.55, 1.6, 1.65, 1.7, 1.75,  1.8, 1.9, 2.0, 2.1, 2.2, 2.35, 2.5, 2.75, 3.0, _];

const e4CloseMean = [6.6, 6.4, 6.8, 7.1, 7.4, 7.7, 8.0, 8.2, 8.3, 8.4,  8.5, 8.6, 8.7, 8.8, 8.9, 9.0, 9.1, 9.2, 9.3, 9.4,  9.5, 9.6, 9.8, 10.0, 10.3, 10.6, 11.0, 11.4, 11.8, 12.1,  12.4, 12.6, 12.8, 13.0, 13.1, 13.2, 13.3, 13.3, 13.4, 13.6];
const e4CloseCi = [1.5, 1.6, 1.5, 1.4, 1.3, 1.2, 1.1, 1.0, 1.0, 0.95,  0.9, 0.9, 0.9, 0.9, 0.9, 0.9, 0.9, 0.9, 0.9, 0.9,  0.9, 0.95, 1.0, 1.0, 1.05, 1.1, 1.1, 1.15, 1.2, 1.25,  1.3, 1.4, 1.5, 1.6, 1.75, 1.9, 2.05, 2.2, 2.4, 2.6];
const e4AlienMean = [9.65, 9.6, 9.6, 9.6, 9.6, 9.7, 9.8, 9.9, 10.0, 10.2,  10.4, 10.6, 10.8, 11.0, 11.2, 11.4, 11.6, 11.8, 11.9, 12.0,  12.0, 12.1, 12.2, 12.4, 12.7, 13.1, 13.6, 14.1, 14.6, 15.0,  15.4, 15.8, 16.2, 16.5, 16.6, 16.6, 16.6, 16.5, 16.4, _];
const e4AlienCi = [2.25, 2.1, 2.0, 1.9, 1.8, 1.7, 1.6, 1.6, 1.5, 1.5,  1.45, 1.4, 1.35, 1.3, 1.25, 1.2, 1.2, 1.2, 1.2, 1.2,  1.2, 1.25, 1.3, 1.35, 1.4, 1.5, 1.6, 1.7, 1.8, 1.9,  2.0, 2.15, 2.3, 2.5, 2.7, 3.0, 3.4, 3.9, 4.5, _];

const GREEN = "#7dd46a";
const YELLOW = "#f5c232";
const RED = "#e02f1c";
const PANEL_BG = "#eaf1f3";
const GRID = "#e6eef1";
const NAVY = "#23305a";
const FONT = "'Liberation Sans', Arial, Helvetica, sans-serif";

const W = 377;
const H = 275;
const COL_X = [0, 392, 784, 1176, 1568];
const ROW_Y = [15, 321, 623, 930];
const AGE_Y = [245, 241, 247, 241];

type Series = { name: string; color: string; mean: (number | null)[]; ci: (number | null)[] };
type LegendBox = { x: number; y: number; w: number; h: number; x1: number; x2: number; tx: number; rows: number[] };
type PanelDef = {
  id: string;
  title: string;
  yLabel: string;
  yTicks: number[];
  yDomain: [number, number];
  series: Series[];
  legend?: LegendBox;
  titleX?: number;
  yLabelY?: number;
};

const inc = (hi: any[], hiCi: any[], lo: any[], loCi: any[]): Series[] => [
  { name: "high income", color: GREEN, mean: hi, ci: hiCi },
  { name: "low income", color: RED, mean: lo, ci: loCi },
];
const nut = (g: any[], gCi: any[], n: any[], nCi: any[]): Series[] => [
  { name: "good", color: GREEN, mean: g, ci: gCi },
  { name: "not good", color: RED, mean: n, ci: nCi },
];
const per = (e: any[], eCi: any[], a: any[], aCi: any[], i: any[], iCi: any[]): Series[] => [
  { name: "extrovert", color: GREEN, mean: e, ci: eCi },
  { name: "ambivert", color: YELLOW, mean: a, ci: aCi },
  { name: "introvert", color: RED, mean: i, ci: iCi },
];
const nbh = (c: any[], cCi: any[], a: any[], aCi: any[]): Series[] => [
  { name: "close", color: GREEN, mean: c, ci: cCi },
  { name: "alienated", color: RED, mean: a, ci: aCi },
];

const HEAD = "Head score";
const PANELS: PanelDef[][] = [
  [
    { id: "A1", title: "Income", yLabel: HEAD, yTicks: [8, 10, 12, 14], yDomain: [7.23, 14.26], series: inc(a1HighMean, a1HighCi, a1LowMean, a1LowCi), titleX: 184, yLabelY: 136,
      legend: { x: 229, y: 47, w: 139, h: 61, x1: 240, x2: 275, tx: 281, rows: [65.7, 88.3] } },
    { id: "B1", title: "Income", yLabel: "SF36", yTicks: [110, 120, 130, 140], yDomain: [109.0, 141.26], series: inc(b1HighMean, b1HighCi, b1LowMean, b1LowCi) },
    { id: "C1", title: "Income", yLabel: "IIEF5", yTicks: [0, 5, 10, 15, 20, 25], yDomain: [-1.35, 26.07], series: inc(c1HighMean, c1HighCi, c1LowMean, c1LowCi) },
    { id: "D1", title: "Income", yLabel: "AMS", yTicks: [20, 25, 30, 35, 40], yDomain: [18.25, 41.3], series: inc(d1HighMean, d1HighCi, d1LowMean, d1LowCi) },
    { id: "E1", title: "Income", yLabel: "IPSS", yTicks: [5, 10, 15, 20], yDomain: [3.73, 20.51], series: inc(e1HighMean, e1HighCi, e1LowMean, e1LowCi) },
  ],
  [
    { id: "A2", title: "Nutrition", yLabel: HEAD, yTicks: [6, 8, 10, 12, 14], yDomain: [5.67, 14.29], series: nut(a2GoodMean, a2GoodCi, a2NotMean, a2NotCi), yLabelY: 111,
      legend: { x: 225, y: 47, w: 143, h: 62, x1: 243, x2: 280, tx: 295, rows: [65.7, 86.3] } },
    { id: "B2", title: "Nutrition", yLabel: "SF36", yTicks: [110, 120, 130, 140], yDomain: [108.65, 141.09], series: nut(b2GoodMean, b2GoodCi, b2NotMean, b2NotCi) },
    { id: "C2", title: "Nutrition", yLabel: "IIEF5", yTicks: [0, 5, 10, 15, 20, 25], yDomain: [-1.14, 26.32], series: nut(c2GoodMean, c2GoodCi, c2NotMean, c2NotCi) },
    { id: "D2", title: "Nutrition", yLabel: "AMS", yTicks: [15, 20, 25, 30, 35, 40], yDomain: [13.97, 40.82], series: nut(d2GoodMean, d2GoodCi, d2NotMean, d2NotCi) },
    { id: "E2", title: "Nutrition", yLabel: "IPSS", yTicks: [5, 10, 15, 20], yDomain: [4.33, 20.46], series: nut(e2GoodMean, e2GoodCi, e2NotMean, e2NotCi) },
  ],
  [
    { id: "A3", title: "Personality", yLabel: HEAD, yTicks: [6, 8, 10, 12, 14], yDomain: [5.69, 14.67], series: per(a3ExtroMean, a3ExtroCi, a3AmbiMean, a3AmbiCi, a3IntroMean, a3IntroCi), yLabelY: 108,
      legend: { x: 232, y: 30, w: 138, h: 83, x1: 240, x2: 277, tx: 290, rows: [45, 67.7, 88.3] } },
    { id: "B3", title: "Personality", yLabel: "SF36", yTicks: [100, 110, 120, 130, 140], yDomain: [96.55, 142.2], series: per(b3ExtroMean, b3ExtroCi, b3AmbiMean, b3AmbiCi, b3IntroMean, b3IntroCi) },
    { id: "C3", title: "Personality", yLabel: "IIEF5", yTicks: [0, 10, 20, 30], yDomain: [-1.37, 31.58], series: per(c3ExtroMean, c3ExtroCi, c3AmbiMean, c3AmbiCi, c3IntroMean, c3IntroCi) },
    { id: "D3", title: "Personality", yLabel: "AMS", yTicks: [10, 20, 30, 40, 50], yDomain: [8.7, 52.0], series: per(d3ExtroMean, d3ExtroCi, d3AmbiMean, d3AmbiCi, d3IntroMean, d3IntroCi) },
    { id: "E3", title: "Personality", yLabel: "IPSS", yTicks: [5, 10, 15, 20, 25], yDomain: [4.49, 25.8], series: per(e3ExtroMean, e3ExtroCi, e3AmbiMean, e3AmbiCi, e3IntroMean, e3IntroCi) },
  ],
  [
    { id: "A4", title: "Neighborhood", yLabel: HEAD, yTicks: [6, 8, 10, 12, 14], yDomain: [5.35, 14.61], series: nbh(a4CloseMean, a4CloseCi, a4AlienMean, a4AlienCi), yLabelY: 103,
      legend: { x: 231, y: 28, w: 139, h: 59, x1: 242, x2: 278, tx: 292, rows: [43.3, 65.7] } },
    { id: "B4", title: "Neighborhood", yLabel: "SF36", yTicks: [100, 110, 120, 130, 140], yDomain: [95.97, 140.96], series: nbh(b4CloseMean, b4CloseCi, b4AlienMean, b4AlienCi) },
    { id: "C4", title: "Neighborhood", yLabel: "IIEF5", yTicks: [0, 5, 10, 15, 20, 25], yDomain: [-1.73, 27.16], series: nbh(c4CloseMean, c4CloseCi, c4AlienMean, c4AlienCi) },
    { id: "D4", title: "Neighborhood", yLabel: "AMS", yTicks: [15, 20, 25, 30, 35, 40], yDomain: [13.94, 43.23], series: nbh(d4CloseMean, d4CloseCi, d4AlienMean, d4AlienCi) },
    { id: "E4", title: "Neighborhood", yLabel: "IPSS", yTicks: [5, 10, 15, 20], yDomain: [4.24, 21.67], series: nbh(e4CloseMean, e4CloseCi, e4AlienMean, e4AlienCi) },
  ],
];

function XTick(props: any) {
  const { x, y, payload } = props;
  return (
    <text x={x} y={y + 9} textAnchor="middle" fontSize={14} fontWeight="bold" fill="#000" fontFamily={FONT}>
      {payload.value}
    </text>
  );
}

function YTick(props: any) {
  const { x, y, payload } = props;
  return (
    <text x={x} y={y} transform={`rotate(-90 ${x} ${y})`} textAnchor="middle" fontSize={12.5} fontWeight="bold" fill="#000" fontFamily={FONT}>
      {payload.value}
    </text>
  );
}

function Panel({ def, left, top, ageY }: { def: PanelDef; left: number; top: number; ageY: number }) {
  const rows = AGES.map((age, i) => {
    const row: Record<string, number | null> = { age };
    def.series.forEach((s, k) => {
      row["m" + k] = s.mean[i];
      row["e" + k] = s.ci[i];
    });
    return row;
  });
  const lg = def.legend;

  return (
    <div style={{ position: "absolute", left, top, width: W, height: H, background: PANEL_BG }}>
      <LineChart width={W} height={H} data={rows} margin={{ top: 26, right: 9, bottom: 0, left: 0 }}>
        <CartesianGrid vertical={false} fill="#ffffff" stroke={GRID} strokeWidth={2} />
        <XAxis
          dataKey="age"
          type="number"
          domain={[38.8, 80.3]}
          ticks={X_TICKS}
          interval={0}
          allowDataOverflow
          height={61.5}
          axisLine={{ stroke: "#000", strokeWidth: 2.2 }}
          tickLine={{ stroke: "#000", strokeWidth: 1.5 }}
          tickSize={4}
          tickMargin={2}
          tick={<XTick />}
        />
        <YAxis
          type="number"
          domain={def.yDomain}
          ticks={def.yTicks}
          interval={0}
          allowDataOverflow
          width={38}
          axisLine={{ stroke: "#000", strokeWidth: 2.2 }}
          tickLine={{ stroke: "#000", strokeWidth: 1.5 }}
          tickSize={5}
          tickMargin={2.5}
          tick={<YTick />}
        />
        {def.series.map((s, k) => (
          <Line
            key={s.name}
            name={s.name}
            type="linear"
            dataKey={"m" + k}
            stroke={s.color}
            strokeWidth={3.4}
            dot={false}
            activeDot={false}
            isAnimationActive={false}
          >
            <ErrorBar dataKey={"e" + k} width={6} strokeWidth={2.6} stroke={s.color} direction="y" isAnimationActive={false} />
          </Line>
        ))}
      </LineChart>
      <svg width={W} height={H} style={{ position: "absolute", left: 0, top: 0, pointerEvents: "none" }} fontFamily={FONT}>
        <text x={8} y={20.5} fontSize={19} fontWeight="bold" fill="#000">{def.id}</text>
        <text x={def.titleX ?? 206} y={22.5} textAnchor="middle" fontSize={14} fill={NAVY}>{def.title}</text>
        <text transform={`translate(15 ${def.yLabelY ?? 116}) rotate(-90)`} textAnchor="middle" fontSize={14} fontWeight="bold" fill="#000">
          {def.yLabel}
        </text>
        <text x={207} y={ageY} textAnchor="middle" fontSize={14} fontWeight="bold" fill="#000">Age</text>
        {lg && (
          <g>
            <rect x={lg.x} y={lg.y} width={lg.w} height={lg.h} fill="#fff" stroke="#000" strokeWidth={2.5} />
            {def.series.map((s, k) => (
              <g key={s.name}>
                <line x1={lg.x1} x2={lg.x2} y1={lg.rows[k]} y2={lg.rows[k]} stroke={s.color} strokeWidth={4} />
                <text x={lg.tx} y={lg.rows[k] + 5} fontSize={14} fill="#000">{s.name}</text>
              </g>
            ))}
          </g>
        )}
      </svg>
    </div>
  );
}

export default function App() {
  return (
    <div style={{ position: "absolute", left: 0, top: 0, width: 1953, height: 1205, background: "#fff", fontFamily: FONT }}>
      {PANELS.map((row, r) =>
        row.map((def, c) => <Panel key={def.id} def={def} left={COL_X[c]} top={ROW_Y[r]} ageY={AGE_Y[r]} />)
      )}
    </div>
  );
}
